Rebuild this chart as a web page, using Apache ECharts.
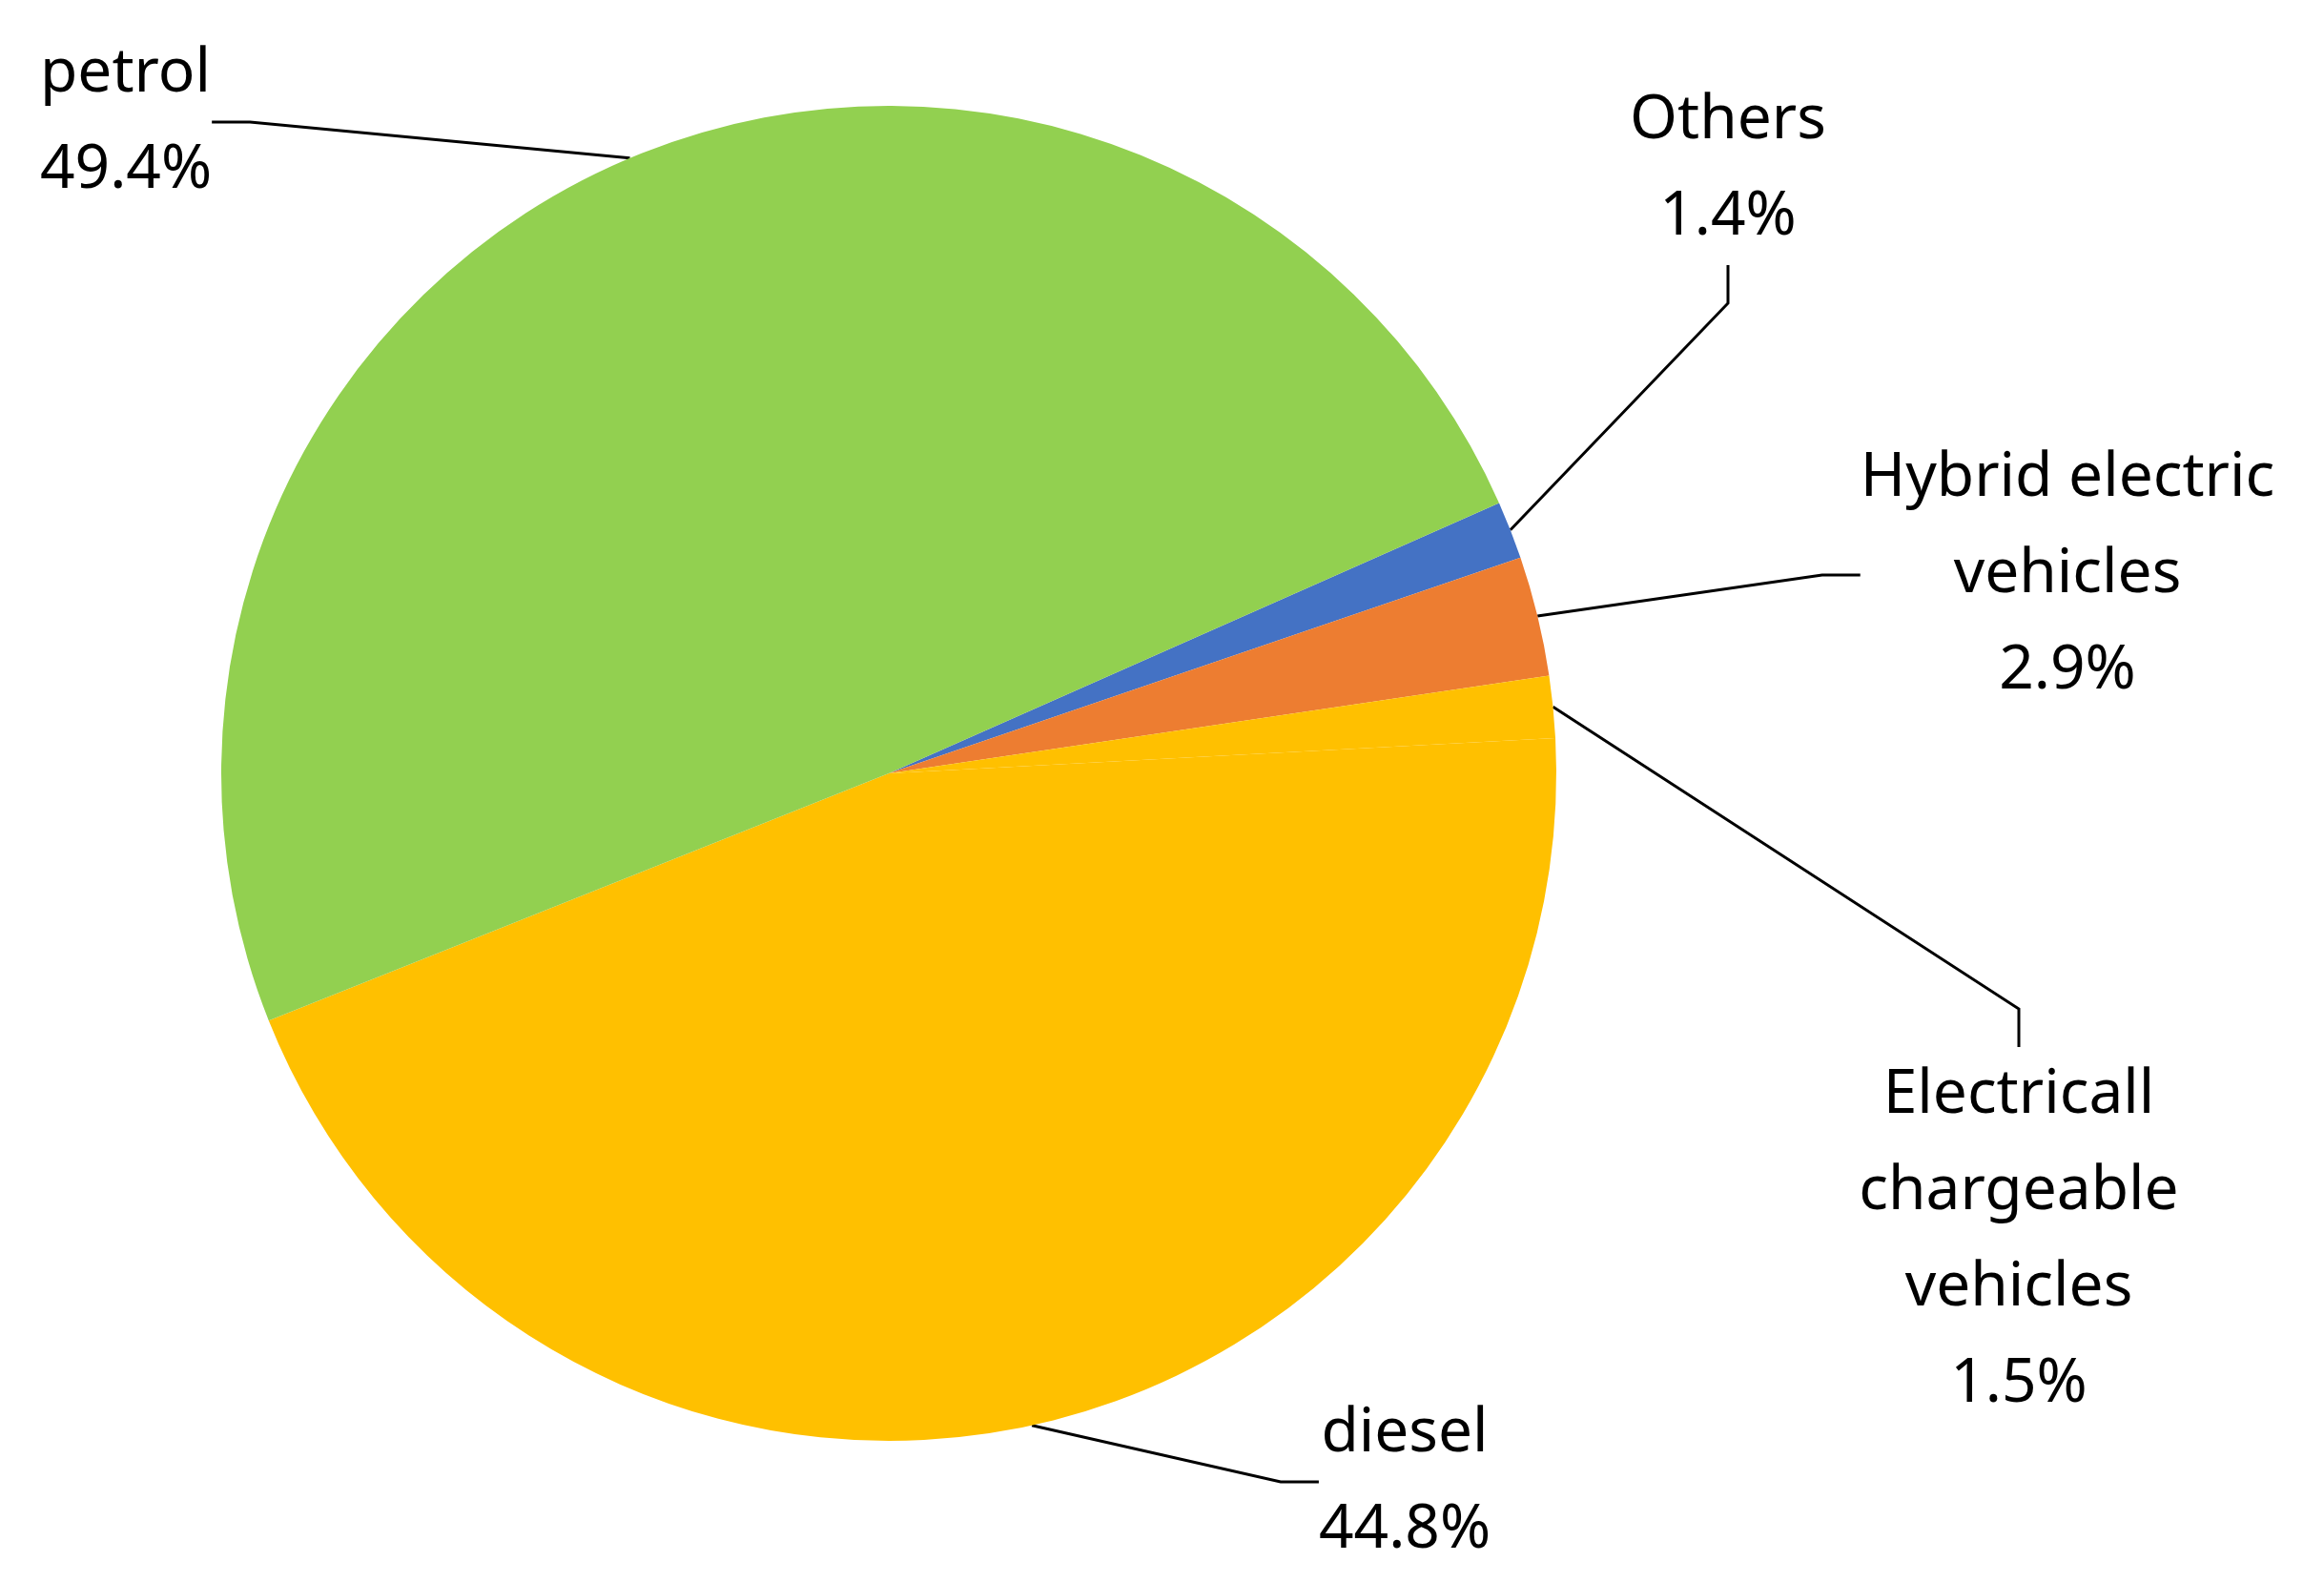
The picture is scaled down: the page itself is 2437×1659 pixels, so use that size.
<!DOCTYPE html>
<html><head><meta charset="utf-8">
<script src="https://cdn.jsdelivr.net/npm/echarts@6/dist/echarts.min.js"></script>
<style>html,body{margin:0;background:#fff}#c{width:2437px;height:1659px}</style>
</head><body><div id="c"></div>
<script>
const categories = ['Others', 'Hybrid electric\nvehicles', 'Electricall\nchargeable\nvehicles', 'diesel', 'petrol'];
const values = [1.4, 2.9, 1.5, 44.8, 49.4];
const colors = ['#4472C4', '#ED7D31', '#FFC000', '#FFC000', '#92D050'];
const labelPos = [
  {x: 1812, y: 177, align: 'center'},
  {x: 2168, y: 603, align: 'center'},
  {x: 2117, y: 1300, align: 'center'},
  {x: 1473, y: 1554, align: 'center'},
  {x: 42, y: 128, align: 'left'}
];
const chart = echarts.init(document.getElementById('c'));
chart.setOption({
  animation: false,
  series: [{
    type: 'pie',
    center: [932, 811],
    radius: 700,
    startAngle: 23.9,
    clockwise: true,
    data: categories.map((n, i) => ({name: n, value: values[i], itemStyle: {color: colors[i]}})),
    label: {
      formatter: p => p.name + '\n' + p.value.toFixed(1) + '%',
      fontFamily: 'Noto Sans', fontSize: 64, lineHeight: 101, color: '#000', align: 'center'
    },
    labelLine: {show: true, length: 60, length2: 40, lineStyle: {color: '#000', width: 3}},
    labelLayout: p => {
      const l = labelPos[p.dataIndex];
      return {x: l.x, y: l.y, align: l.align, verticalAlign: 'middle'};
    }
  }]
});
</script></body></html>
